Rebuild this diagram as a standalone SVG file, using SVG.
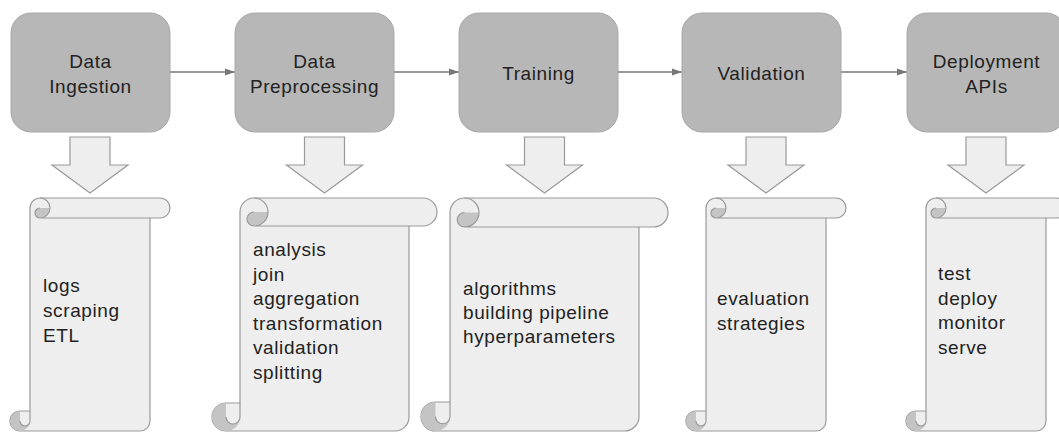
<svg xmlns="http://www.w3.org/2000/svg" xmlns:xlink="http://www.w3.org/1999/xlink" width="1059" height="432" viewBox="0 0 1059 432">
<style>
.box{fill:#b7b7b7;stroke:#a8a8a8;stroke-width:1}
.lbl{font-family:"Liberation Sans",Arial,sans-serif;font-size:19px;letter-spacing:0.6px;fill:#222;text-anchor:middle}
.txt{font-family:"Liberation Sans",Arial,sans-serif;font-size:19px;letter-spacing:0.6px;fill:#222}
.conn{stroke:#777;stroke-width:1.3;fill:none}
.sc{fill:#eeeeee;stroke:#9a9a9a;stroke-width:1.2;stroke-linejoin:round}
.dk{fill:#c4c4c4;stroke:none}
.ln{fill:none;stroke:#9a9a9a;stroke-width:1.2}
.barrow{fill:#eeeeee;stroke:#9a9a9a;stroke-width:1.2;stroke-linejoin:miter}
</style>
<defs>
<marker id="ah" markerUnits="userSpaceOnUse" markerWidth="11" markerHeight="8" refX="10" refY="4" orient="auto">
<path d="M0,0.5 L10,4 L0,7.5 Z" fill="#777"/>
</marker>
<polygon id="down" class="barrow" points="-20,137 20,137 20,165 38,165 0,193 -38,165 -20,165"/>
<g id="scrollS">
<path class="sc" d="M20,213 L20,10 A10,10 0 0 1 30,0 L150,0 A10,10 0 0 1 150,20 L140,20 L140,223 A10,10 0 0 1 130,233 L10,233 A10,10 0 0 1 10,213 Z"/>
<path class="dk" d="M30,20 A5,5 0 0 1 30,10 L40,10 A10,10 0 0 1 30,20 Z"/>
<path class="dk" d="M10,213 A10,10 0 0 0 10,233 A10,10 0 0 0 20,223 A5,5 0 0 1 10,223 Z"/>
<path class="ln" d="M30,0 A10,10 0 0 1 30,20 A5,5 0 0 1 30,10 M30,20 L140,20 M20,213 L20,223 A5,5 0 0 1 10,223"/>
</g>
</defs>

<g id="connectors">
<line class="conn" x1="170" y1="72" x2="235" y2="72" marker-end="url(#ah)"/>
<line class="conn" x1="394" y1="72" x2="459" y2="72" marker-end="url(#ah)"/>
<line class="conn" x1="618" y1="72" x2="682" y2="72" marker-end="url(#ah)"/>
<line class="conn" x1="841" y1="72" x2="907" y2="72" marker-end="url(#ah)"/>
</g>

<g id="node-ingestion">
<rect class="box" x="11" y="13" width="159" height="119" rx="20"/>
<text class="lbl" x="90.5" y="67.5">Data</text>
<text class="lbl" x="90.5" y="92.5">Ingestion</text>
</g>
<g id="node-preprocessing">
<rect class="box" x="235" y="13" width="159" height="119" rx="20"/>
<text class="lbl" x="314.5" y="67.5">Data</text>
<text class="lbl" x="314.5" y="92.5">Preprocessing</text>
</g>
<g id="node-training">
<rect class="box" x="459" y="13" width="159" height="119" rx="20"/>
<text class="lbl" x="538.5" y="80">Training</text>
</g>
<g id="node-validation">
<rect class="box" x="682" y="13" width="159" height="119" rx="20"/>
<text class="lbl" x="761.5" y="80">Validation</text>
</g>
<g id="node-deployment">
<rect class="box" x="907" y="13" width="159" height="119" rx="20"/>
<text class="lbl" x="986.5" y="67.5">Deployment</text>
<text class="lbl" x="986.5" y="92.5">APIs</text>
</g>

<g id="arrow-1"><use xlink:href="#down" href="#down" transform="translate(90,0)"/></g>
<g id="arrow-2"><use xlink:href="#down" href="#down" transform="translate(324.5,0)"/></g>
<g id="arrow-3"><use xlink:href="#down" href="#down" transform="translate(544.5,0)"/></g>
<g id="arrow-4"><use xlink:href="#down" href="#down" transform="translate(766,0)"/></g>
<g id="arrow-5"><use xlink:href="#down" href="#down" transform="translate(986,0)"/></g>

<g id="scroll-1">
<use xlink:href="#scrollS" href="#scrollS" transform="translate(10,198)"/>
<text class="txt" x="43" y="292">logs</text>
<text class="txt" x="43" y="317">scraping</text>
<text class="txt" x="43" y="342">ETL</text>
</g>

<g id="scroll-2" transform="translate(212,198)">
<path class="sc" d="M28,205 L28,14 A14,14 0 0 1 42,0 L211,0 A14,14 0 0 1 211,28 L197,28 L197,219 A14,14 0 0 1 183,233 L14,233 A14,14 0 0 1 14,205 Z"/>
<path class="dk" d="M42,28 A7,7 0 0 1 42,14 L56,14 A14,14 0 0 1 42,28 Z"/>
<path class="dk" d="M14,205 A14,14 0 0 0 14,233 A14,14 0 0 0 28,219 A7,7 0 0 1 14,219 Z"/>
<path class="ln" d="M42,0 A14,14 0 0 1 42,28 A7,7 0 0 1 42,14 M42,28 L197,28 M28,205 L28,219 A7,7 0 0 1 14,219"/>
</g>
<g id="scroll-2-text">
<text class="txt" x="253" y="256">analysis</text>
<text class="txt" x="253" y="280.5">join</text>
<text class="txt" x="253" y="305">aggregation</text>
<text class="txt" x="253" y="329.5">transformation</text>
<text class="txt" x="253" y="354">validation</text>
<text class="txt" x="253" y="378.5">splitting</text>
</g>

<g id="scroll-3" transform="translate(421,198)">
<path class="sc" d="M29,204 L29,14.5 A14.5,14.5 0 0 1 43.5,0 L232.5,0 A14.5,14.5 0 0 1 232.5,29 L218,29 L218,218.5 A14.5,14.5 0 0 1 203.5,233 L14.5,233 A14.5,14.5 0 0 1 14.5,204 Z"/>
<path class="dk" d="M43.5,29 A7.25,7.25 0 0 1 43.5,14.5 L58,14.5 A14.5,14.5 0 0 1 43.5,29 Z"/>
<path class="dk" d="M14.5,204 A14.5,14.5 0 0 0 14.5,233 A14.5,14.5 0 0 0 29,218.5 A7.25,7.25 0 0 1 14.5,218.5 Z"/>
<path class="ln" d="M43.5,0 A14.5,14.5 0 0 1 43.5,29 A7.25,7.25 0 0 1 43.5,14.5 M43.5,29 L218,29 M29,204 L29,218.5 A7.25,7.25 0 0 1 14.5,218.5"/>
</g>
<g id="scroll-3-text">
<text class="txt" x="463" y="295">algorithms</text>
<text class="txt" x="463" y="319">building pipeline</text>
<text class="txt" x="463" y="343">hyperparameters</text>
</g>

<g id="scroll-4">
<use xlink:href="#scrollS" href="#scrollS" transform="translate(686,198)"/>
<text class="txt" x="717" y="305">evaluation</text>
<text class="txt" x="717" y="330">strategies</text>
</g>

<g id="scroll-5">
<use xlink:href="#scrollS" href="#scrollS" transform="translate(906,198)"/>
<text class="txt" x="938" y="280">test</text>
<text class="txt" x="938" y="304.5">deploy</text>
<text class="txt" x="938" y="329">monitor</text>
<text class="txt" x="938" y="353.5">serve</text>
</g>
</svg>
